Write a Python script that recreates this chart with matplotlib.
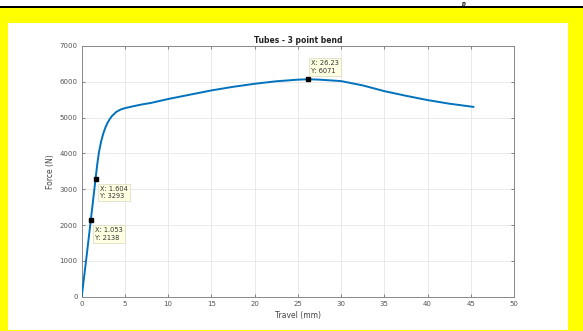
import matplotlib
matplotlib.use("Agg")
import matplotlib.pyplot as plt
from matplotlib.patches import Rectangle

travel = [0, 0.3, 0.6, 1.053, 1.604, 1.8, 2.0, 2.25, 2.5, 2.75, 3.0, 3.25, 3.5, 4.0, 4.5,
          5.0, 6, 7, 8, 10, 12.5, 15, 17.5, 20, 22.5, 25, 26.23, 27.5, 30, 32.5, 35, 37.5,
          40, 42.5, 45.3]
force = [0, 600, 1200, 2138, 3293, 3700, 4040, 4340, 4560, 4730, 4860, 4960, 5045, 5160,
         5225, 5265, 5320, 5370, 5410, 5520, 5640, 5760, 5860, 5945, 6015, 6060, 6071,
         6060, 6020, 5900, 5740, 5610, 5490, 5390, 5300]
tip_x = [1.053, 1.604, 26.23]
tip_y = [2138, 3293, 6071]
x_ticks = list(range(0, 51, 5))
y_ticks = list(range(0, 7001, 1000))

W, H = 583, 331
fig = plt.figure(figsize=(W / 100, H / 100), dpi=100)
fig.patch.set_facecolor("#FFFF00")

def px_rect(x0, y0top, x1, y1top, color):
    fig.patches.append(Rectangle((x0 / W, 1 - y1top / H), (x1 - x0) / W, (y1top - y0top) / H,
                                 transform=fig.transFigure, facecolor=color,
                                 edgecolor="none", zorder=-10))

px_rect(0, 0, W, 7, "white")
px_rect(0, 6.5, W, 8, "black")
px_rect(8, 23, 568, 330, "white")
fig.text(463 / W, 1 - 0.5 / H, "p", fontsize=5.5, style="italic", fontweight="bold",
         family="Liberation Serif", ha="center", va="top", color="black")

ax = fig.add_axes([81.7 / W, 1 - 296.7 / H, (514 - 81.7) / W, (296.7 - 46) / H])
ax.set_facecolor("white")
ax.plot(travel, force, color="#0072BD", lw=1.4, zorder=3)
ax.plot(tip_x, tip_y, "s", color="black", ms=3.5, zorder=4)

ax.set_xlim(0, 50)
ax.set_ylim(0, 7000)
ax.set_xticks(x_ticks)
ax.set_yticks(y_ticks)
ax.grid(True, color="#e6e6e6", lw=0.6)
ax.set_axisbelow(True)
ax.tick_params(direction="in", length=2.5, width=0.5, labelsize=5, colors="#555555",
               top=True, right=True, pad=3)
for s in ax.spines.values():
    s.set_color("#888888")
    s.set_linewidth(0.7)

ax.set_title("Tubes - 3 point bend", fontsize=5.5, fontweight="bold", pad=2.5, color="#222222")
ax.set_xlabel("Travel (mm)", fontsize=5.5, color="#444444", labelpad=3)
ax.set_ylabel("Force (N)", fontsize=5.5, color="#444444", labelpad=3)

box = dict(boxstyle="square,pad=0.3", facecolor="#FFFFE1", edgecolor="#d8d8c0", lw=0.5)
for xv, yv in zip(tip_x, tip_y):
    lbl = f"X: {xv:g}\nY: {yv:g}"
    if yv > 5000:
        ax.annotate(lbl, (xv, yv), xytext=(2, 4), textcoords="offset points",
                    ha="left", va="bottom", fontsize=4.8, bbox=box, color="#333333",
                    linespacing=1.3, zorder=5)
    else:
        ax.annotate(lbl, (xv, yv), xytext=(3, -5), textcoords="offset points",
                    ha="left", va="top", fontsize=4.8, bbox=box, color="#333333",
                    linespacing=1.3, zorder=5)

fig.savefig("out.png", dpi=100, facecolor=fig.get_facecolor())
